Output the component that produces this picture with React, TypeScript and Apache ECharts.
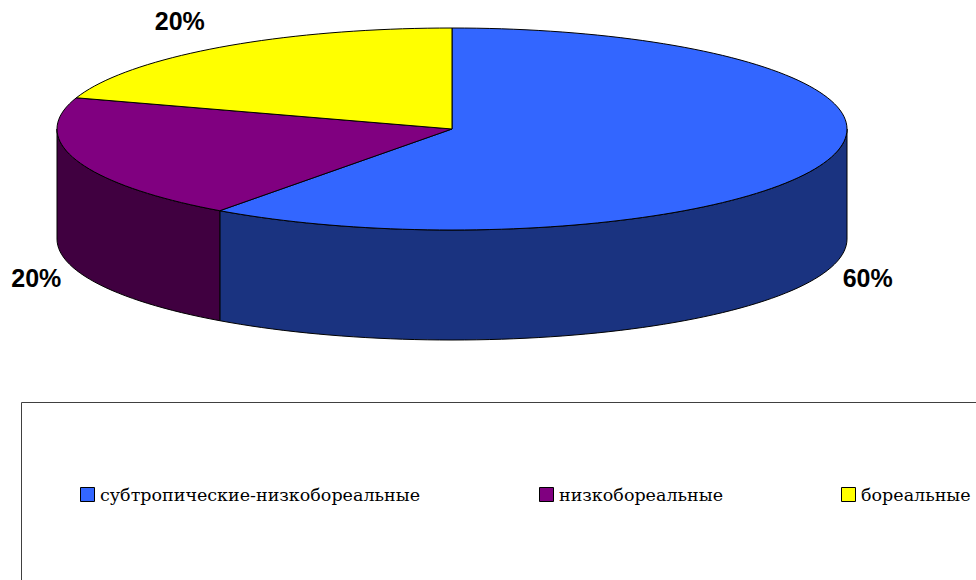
import React, { useEffect, useRef } from "react";
import * as echarts from "echarts";

const names = ["субтропические-низкобореальные", "низкобореальные", "бореальные"];
const values = [60, 20, 20];
const topColors = ["#3366FF", "#800080", "#FFFF00"];
const sideColors = ["#1A3380", "#400040", "#808000"];

const CX = 452;
const CY = 129;
const RX = 395;
const RY = 101;
const DEPTH = 110;

const LEGEND_X = [80, 539, 841];
const LEGEND_Y = 494;

function pt(t: number, dy: number): number[] {
  return [CX + RX * Math.sin(t), CY - RY * Math.cos(t) + dy];
}

function arcPts(a: number, b: number, dy: number): number[][] {
  const n = Math.max(2, Math.ceil(((b - a) / (Math.PI * 2)) * 200));
  const out: number[][] = [];
  for (let k = 0; k <= n; k++) out.push(pt(a + ((b - a) * k) / n, dy));
  return out;
}

export default function App() {
  const ref = useRef<HTMLDivElement>(null);
  useEffect(() => {
    if (!ref.current) return;
    const chart = echarts.init(ref.current, null, { renderer: "svg" });
    const total = values.reduce((s, v) => s + v, 0);
    const starts: number[] = [];
    let acc = 0;
    values.forEach((v) => {
      starts.push(acc);
      acc += v;
    });

    const series = names.map((name, i) => ({
      type: "custom",
      name,
      coordinateSystem: "none",
      data: [[values[i]]],
      itemStyle: { color: topColors[i], borderColor: "#000", borderWidth: 1 },
      renderItem: (params: any, api: any) => {
        const v = api.value(0);
        const a = (starts[i] / total) * Math.PI * 2;
        const b = a + (v / total) * Math.PI * 2;
        const children: any[] = [];
        const wa = Math.max(a, Math.PI / 2);
        const wb = Math.min(b, (Math.PI * 3) / 2);
        if (wb > wa) {
          const topEdge = arcPts(wa, wb, 0);
          const botEdge = arcPts(wa, wb, DEPTH).reverse();
          children.push({
            type: "polygon",
            shape: { points: topEdge.concat(botEdge) },
            style: { fill: sideColors[i], stroke: "#000", lineWidth: 1 },
          });
        }
        children.push({
          type: "polygon",
          shape: { points: [[CX, CY]].concat(arcPts(a, b, 0)) },
          style: { fill: topColors[i], stroke: "#000", lineWidth: 1, lineJoin: "round" },
        });
        const m = (a + b) / 2;
        const front = Math.cos(m) < 0;
        const right = Math.sin(m) > 0;
        const p = pt(m, front ? DEPTH : 0);
        const lx = right ? p[0] + 15 : p[0] - 15;
        const ly = front ? p[1] - 5 : p[1] - 14;
        children.push({
          type: "text",
          x: lx,
          y: ly,
          style: {
            text: Math.round((v / total) * 100) + "%",
            fill: "#000",
            fontFamily: "Liberation Sans",
            fontSize: 25,
            fontWeight: "bold",
            align: right ? "left" : "right",
            verticalAlign: front ? "top" : "bottom",
          },
        });
        return { type: "group", children };
      },
    }));

    const legendGraphics: any[] = [];
    names.forEach((n, i) => {
      legendGraphics.push({
        type: "rect",
        shape: { x: LEGEND_X[i] + 0.5, y: LEGEND_Y - 7 + 0.5, width: 14, height: 14 },
        style: { fill: topColors[i], stroke: "#000", lineWidth: 1 },
      });
      legendGraphics.push({
        type: "text",
        x: LEGEND_X[i] + 20,
        y: LEGEND_Y + 1,
        style: {
          text: n,
          fill: "#000",
          fontFamily: "DejaVu Serif",
          fontSize: 17.5,
          align: "left",
          verticalAlign: "middle",
        },
      });
    });

    chart.setOption({
      animation: false,
      backgroundColor: "#fff",
      graphic: [
        {
          type: "rect",
          shape: { x: 21.5, y: 402.5, width: 1000, height: 300 },
          style: { fill: "none", stroke: "#404040", lineWidth: 1 },
          z: -1,
        },
        ...legendGraphics,
      ],
      series,
    } as any);
    return () => chart.dispose();
  }, []);
  return (
    <div
      ref={ref}
      style={{ position: "fixed", left: 0, top: 0, width: 976, height: 580 }}
    />
  );
}
